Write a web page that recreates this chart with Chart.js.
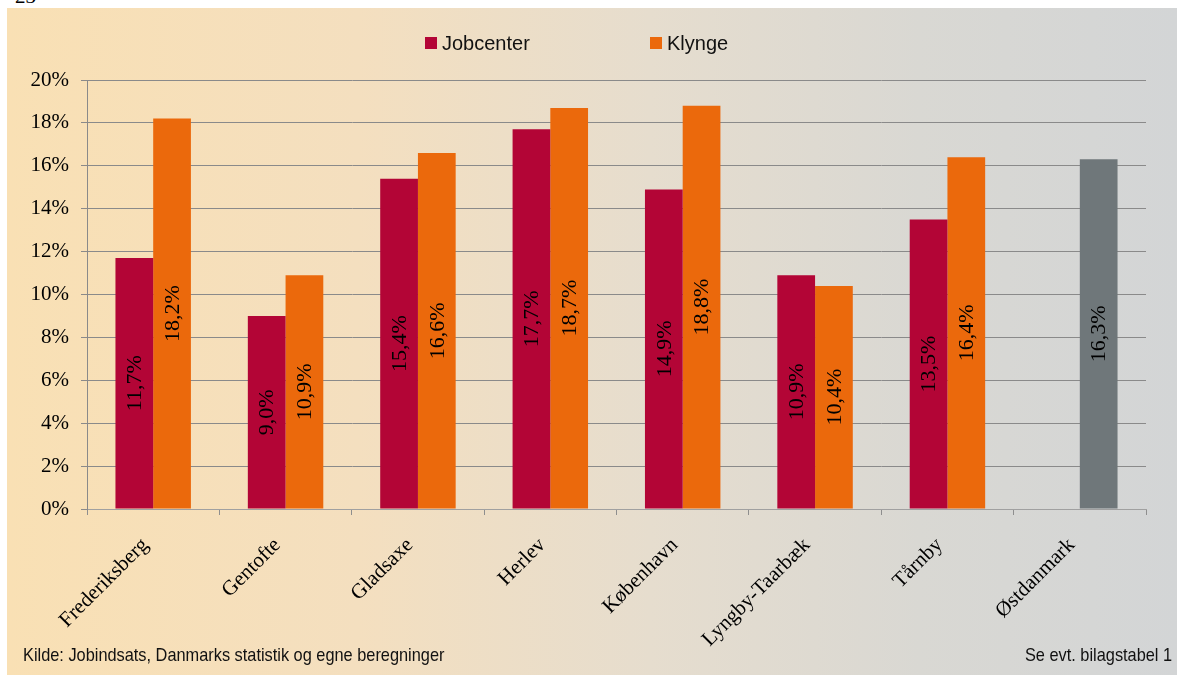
<!DOCTYPE html>
<html>
<head>
<meta charset="utf-8">
<script src="https://cdn.jsdelivr.net/npm/chart.js@4.4.1/dist/chart.umd.min.js"></script>
<style>
  html, body { margin: 0; padding: 0; background: #ffffff; }
  body { width: 1177px; height: 679px; position: relative; overflow: hidden; }
  #panel { position: absolute; left: 7px; top: 8px; width: 1170px; height: 667px;
           background: linear-gradient(to right, #F9E0B4 0%, #F4DFBF 30%, #E6DDCE 55%, #D9D8D3 78%, #D3D5D6 100%); }
  #wrap { position: absolute; left: 0; top: 0; width: 1177px; height: 679px; }
  .leg { position: absolute; top: 31px; font-family: "Liberation Sans", Arial, sans-serif; font-size: 20px; color: #111; line-height: 24px; }
  .box { position: absolute; top: 37px; width: 12px; height: 12px; }
  .src { position: absolute; top: 643px; font-family: "Liberation Sans Narrow", "Arial Narrow", "Liberation Sans", sans-serif; font-size: 19px; color: #111; white-space: nowrap; line-height: 24px; }
  #pg { position: absolute; left: 15px; top: -16px; font-family: "Liberation Serif", "Times New Roman", serif; font-size: 21px; color: #000; }
</style>
</head>
<body>
<div id="pg">23</div>
<div id="panel"></div>
<div id="wrap"><canvas id="c" width="1177" height="679"></canvas></div>
<div class="box" id="b1" style="left:425px;"></div>
<div class="leg" id="l1" style="left:442px;"></div>
<div class="box" id="b2" style="left:650px;"></div>
<div class="leg" id="l2" style="left:667px;"></div>
<div class="src" style="left:23px; transform: scaleX(0.86); transform-origin: left center;">Kilde: Jobindsats, Danmarks statistik og egne beregninger</div>
<div class="src" style="right:5px; transform: scaleX(0.86); transform-origin: right center;">Se evt. bilagstabel 1</div>
<script>
const categories = ["Frederiksberg", "Gentofte", "Gladsaxe", "Herlev", "København", "Lyngby-Taarbæk", "Tårnby", "Østdanmark"];
const seriesNames = ["Jobcenter", "Klynge"];
const jobcenter = [11.7, 9.0, 15.4, 17.7, 14.9, 10.9, 13.5, null];
const klynge = [18.2, 10.9, 16.6, 18.7, 18.8, 10.4, 16.4, 16.3];
const yTicks = [0, 2, 4, 6, 8, 10, 12, 14, 16, 18, 20];

const RED = "#B30536";
const ORANGE = "#EB690C";
const GREY = "#6F777A";
const klyngeColors = categories.map((c, i) => i === categories.length - 1 ? GREY : ORANGE);

document.getElementById("b1").style.background = RED;
document.getElementById("b2").style.background = ORANGE;
document.getElementById("l1").textContent = seriesNames[0];
document.getElementById("l2").textContent = seriesNames[1];

const SERIF = '"Liberation Serif", "Times New Roman", serif';

const valueLabels = {
  id: "valueLabels",
  afterDatasetsDraw(chart) {
    const ctx = chart.ctx;
    ctx.save();
    ctx.font = "22px " + SERIF;
    ctx.fillStyle = "#000";
    ctx.textAlign = "center";
    ctx.textBaseline = "middle";
    chart.data.datasets.forEach((ds, di) => {
      const meta = chart.getDatasetMeta(di);
      meta.data.forEach((bar, i) => {
        const v = ds.data[i];
        if (v === null || v === undefined) return;
        const txt = v.toFixed(1).replace(".", ",") + "%";
        ctx.save();
        ctx.translate(bar.x, (bar.y + bar.base) / 2);
        ctx.rotate(-Math.PI / 2);
        ctx.fillText(txt, 0, 1);
        ctx.restore();
      });
    });
    ctx.restore();
  }
};

new Chart(document.getElementById("c"), {
  type: "bar",
  data: {
    labels: categories,
    datasets: [
      { label: seriesNames[0], data: jobcenter, backgroundColor: RED, borderWidth: 0 },
      { label: seriesNames[1], data: klynge, backgroundColor: klyngeColors, borderWidth: 0 }
    ]
  },
  options: {
    responsive: false,
    animation: false,
    devicePixelRatio: 1,
    categoryPercentage: 0.57,
    barPercentage: 1.0,
    layout: { padding: { left: 0, right: 31, top: 80, bottom: 0 } },
    plugins: { legend: { display: false }, tooltip: { enabled: false } },
    scales: {
      x: {
        grid: { display: true, drawOnChartArea: false, drawTicks: true, tickLength: 6, color: "#8E8E8E", offset: true },
        border: { display: true, color: "#A0A0A0", width: 1 },
        ticks: { autoSkip: false, minRotation: 45, maxRotation: 45, padding: 18, labelOffset: -8, color: "#000", font: { family: SERIF, size: 21 } },
        afterFit(s) { s.height = 170; }
      },
      y: {
        min: 0, max: 20,
        afterBuildTicks(s) { s.ticks = yTicks.map(v => ({ value: v })); },
        grid: { color: "#8A8A8A", tickLength: 6, drawTicks: true },
        border: { display: true, color: "#8A8A8A", width: 1 },
        ticks: { padding: 12, color: "#000", font: { family: SERIF, size: 21 }, callback: v => v + "%" },
        afterFit(s) { s.width = 87; }
      }
    }
  },
  plugins: [valueLabels]
});
</script>
</body>
</html>
